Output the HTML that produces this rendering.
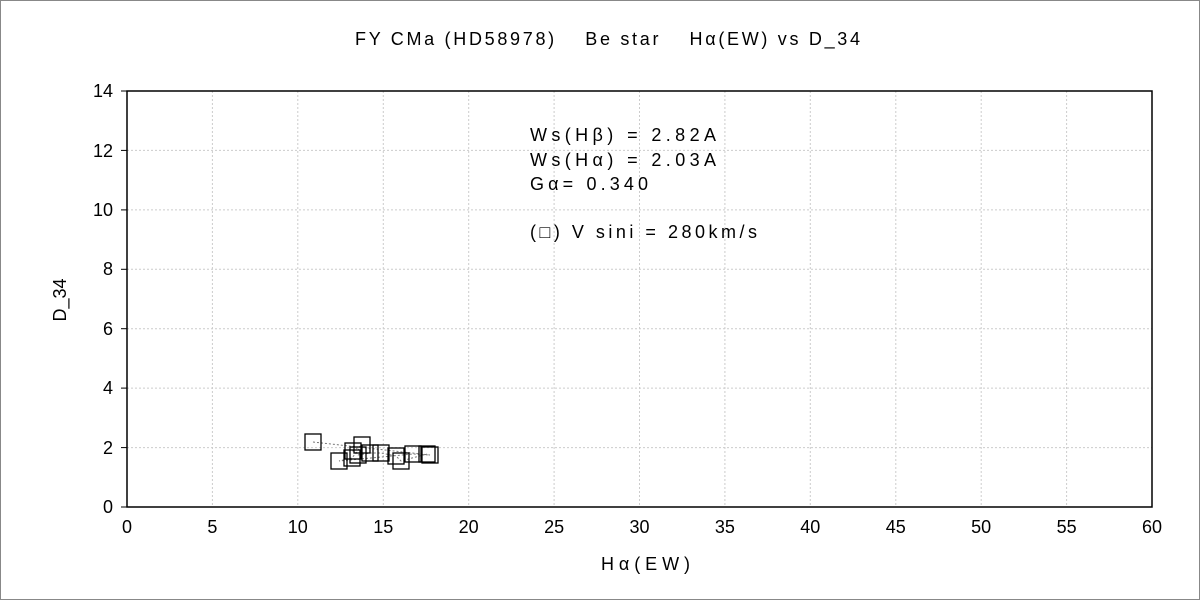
<!DOCTYPE html>
<html><head><meta charset="utf-8"><style>
body{margin:0;background:#fff;width:1200px;height:600px;overflow:hidden}
text{font-family:"Liberation Sans","Noto Sans CJK JP",sans-serif;fill:#000}
</style></head><body>
<svg width="1200" height="600" xmlns="http://www.w3.org/2000/svg">
<rect x="0.5" y="0.5" width="1199" height="599" fill="#fff" stroke="#888"/>
<g stroke="#ccc" stroke-dasharray="2,2" stroke-width="1">
<line x1="127" y1="91" x2="1152" y2="91"/><line x1="127" y1="150.4" x2="1152" y2="150.4"/><line x1="127" y1="209.9" x2="1152" y2="209.9"/><line x1="127" y1="269.3" x2="1152" y2="269.3"/><line x1="127" y1="328.7" x2="1152" y2="328.7"/><line x1="127" y1="388.1" x2="1152" y2="388.1"/><line x1="127" y1="447.6" x2="1152" y2="447.6"/>
<line x1="212.4" y1="91" x2="212.4" y2="507"/><line x1="297.8" y1="91" x2="297.8" y2="507"/><line x1="383.3" y1="91" x2="383.3" y2="507"/><line x1="468.7" y1="91" x2="468.7" y2="507"/><line x1="554.1" y1="91" x2="554.1" y2="507"/><line x1="639.5" y1="91" x2="639.5" y2="507"/><line x1="724.9" y1="91" x2="724.9" y2="507"/><line x1="810.3" y1="91" x2="810.3" y2="507"/><line x1="895.8" y1="91" x2="895.8" y2="507"/><line x1="981.2" y1="91" x2="981.2" y2="507"/><line x1="1066.6" y1="91" x2="1066.6" y2="507"/>
</g>
<rect x="127" y="91" width="1025" height="416" fill="none" stroke="#000" stroke-width="1.5"/>
<g stroke="#000">
<line x1="121" y1="91" x2="127" y2="91"/><line x1="121" y1="150.4" x2="127" y2="150.4"/><line x1="121" y1="209.9" x2="127" y2="209.9"/><line x1="121" y1="269.3" x2="127" y2="269.3"/><line x1="121" y1="328.7" x2="127" y2="328.7"/><line x1="121" y1="388.1" x2="127" y2="388.1"/><line x1="121" y1="447.6" x2="127" y2="447.6"/><line x1="121" y1="507" x2="127" y2="507"/>
</g>
<g font-size="18" text-anchor="end">
<text x="113" y="97">14</text><text x="113" y="157">12</text><text x="113" y="216">10</text><text x="113" y="275">8</text><text x="113" y="335">6</text><text x="113" y="394">4</text><text x="113" y="454">2</text><text x="113" y="513">0</text>
</g>
<g font-size="18" text-anchor="middle">
<text x="127" y="533">0</text><text x="212.4" y="533">5</text><text x="297.8" y="533">10</text><text x="383.3" y="533">15</text><text x="468.7" y="533">20</text><text x="554.1" y="533">25</text><text x="639.5" y="533">30</text><text x="724.9" y="533">35</text><text x="810.3" y="533">40</text><text x="895.8" y="533">45</text><text x="981.2" y="533">50</text><text x="1066.6" y="533">55</text><text x="1152" y="533">60</text>
</g>
<text x="355" y="45" font-size="18" textLength="505" lengthAdjust="spacing">FY CMa (HD58978)　 Be star　 Hα(EW) vs D_34</text>
<text x="601" y="570" font-size="18" textLength="89" lengthAdjust="spacing">Hα(EW)</text>
<text transform="translate(66,300) rotate(-90)" font-size="18" text-anchor="middle">D_34</text>
<g font-size="18">
<text x="530" y="141" textLength="186" lengthAdjust="spacing">Ws(Hβ) = 2.82A</text>
<text x="530" y="166" textLength="186" lengthAdjust="spacing">Ws(Hα) = 2.03A</text>
<text x="530" y="190" textLength="118" lengthAdjust="spacing">Gα= 0.340</text>
<text x="530" y="238" textLength="227" lengthAdjust="spacing">(□) V sini = 280km/s</text>
</g>
<polyline fill="none" stroke="#777" stroke-dasharray="2,2" points="313,442 430,455 413,454 339,461 352,458 362,445 353,451 358,455 370,453 381,453 396,456 401,461 427,454"/>
<g fill="none" stroke="#000" stroke-width="1.3">
<rect x="305" y="434" width="16" height="16"/><rect x="331" y="453" width="16" height="16"/><rect x="354" y="437" width="16" height="16"/><rect x="345" y="443" width="16" height="16"/><rect x="344" y="450" width="16" height="16"/><rect x="350" y="447" width="16" height="16"/><rect x="362" y="445" width="16" height="16"/><rect x="373" y="445" width="16" height="16"/><rect x="388" y="448" width="16" height="16"/><rect x="393" y="453" width="16" height="16"/><rect x="405" y="446" width="16" height="16"/><rect x="422" y="447" width="16" height="16"/><rect x="419" y="446" width="16" height="16"/>
</g>
</svg>
</body></html>
